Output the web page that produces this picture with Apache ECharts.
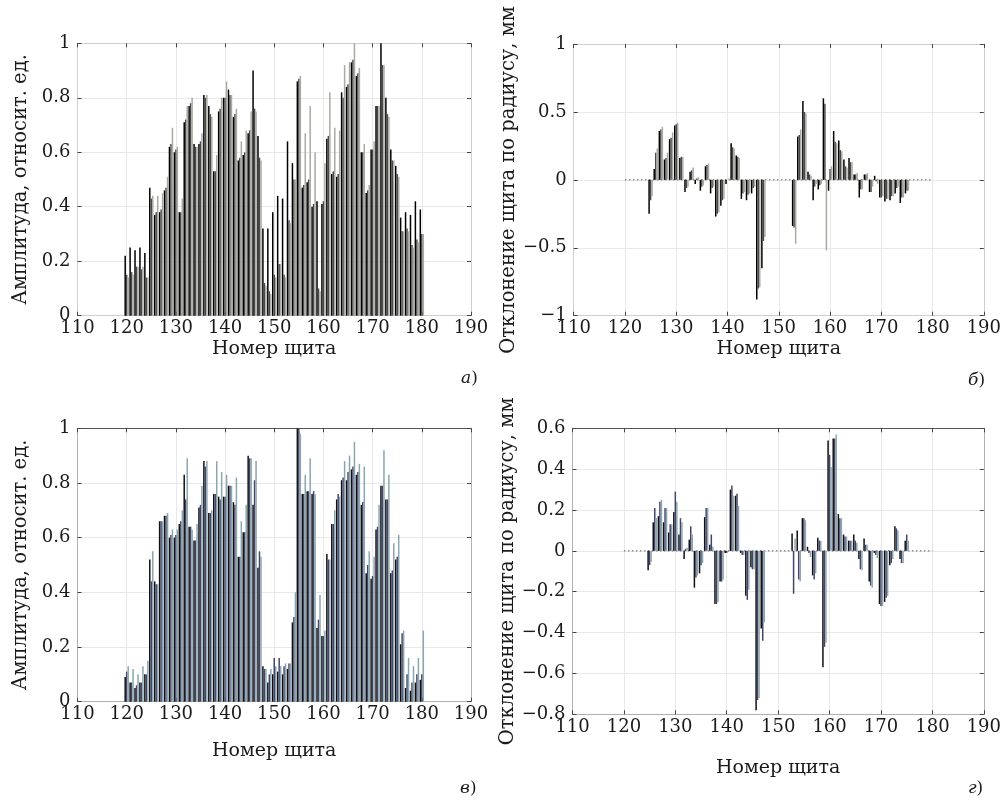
<!DOCTYPE html>
<html><head><meta charset="utf-8">
<script src="https://cdn.jsdelivr.net/npm/echarts@6/dist/echarts.min.js"></script>
<style>html,body{margin:0;padding:0;background:#fff}#c{width:1004px;height:798px}</style>
</head><body><div id="c"></div>
<script>
const shields = Array.from({length: 61}, (_, i) => 120 + i);
const xTicks = [110, 120, 130, 140, 150, 160, 170, 180, 190];

// Panel а) amplitude
const aBlack = [0.22,0.25,0.24,0.25,0.23,0.47,0.37,0.38,0.46,0.62,0.60,0.38,0.71,0.77,0.63,0.63,0.81,0.77,0.53,0.75,0.80,0.83,0.73,0.57,0.59,0.67,0.90,0.66,0.32,0.32,0.38,0.44,0.43,0.64,0.56,0.86,0.47,0.49,0.40,0.42,0.41,0.65,0.52,0.51,0.82,0.84,0.93,0.88,0.60,0.45,0.61,0.77,1.00,0.80,0.61,0.55,0.36,0.38,0.37,0.42,0.39];
const aMid   = [0.15,0.16,0.18,0.17,0.14,0.43,0.38,0.39,0.47,0.63,0.61,0.38,0.72,0.78,0.62,0.64,0.80,0.74,0.53,0.76,0.80,0.81,0.74,0.58,0.60,0.68,0.76,0.58,0.12,0.09,0.15,0.19,0.15,0.35,0.50,0.87,0.48,0.50,0.41,0.10,0.42,0.66,0.53,0.52,0.80,0.85,0.94,0.89,0.60,0.46,0.61,0.77,0.92,0.74,0.57,0.52,0.31,0.32,0.26,0.28,0.30];
const aLight = [0.14,0.15,0.18,0.18,0.14,0.44,0.44,0.45,0.51,0.69,0.62,0.43,0.77,0.80,0.62,0.67,0.81,0.73,0.59,0.80,0.86,0.81,0.76,0.64,0.68,0.75,0.75,0.57,0.11,0.08,0.14,0.19,0.14,0.34,0.50,0.88,0.67,0.77,0.60,0.09,0.56,0.82,0.69,0.68,0.92,0.93,1.00,0.91,0.63,0.48,0.64,0.77,0.92,0.73,0.57,0.51,0.31,0.31,0.25,0.27,0.30];

// Panel б) radial deviation, mm
const bBlack = [0,0,0,0,0,-0.25,0.08,0.36,0.15,0.30,0.40,0.16,-0.09,0.06,-0.03,-0.08,0.10,-0.10,-0.27,-0.19,-0.03,0.27,0.18,-0.14,-0.15,-0.10,-0.88,-0.65,0,0,0,0,0,-0.34,0.32,0.58,0.06,-0.15,-0.07,0.60,-0.08,0.36,0.29,0.15,0.16,0.04,-0.13,0.04,-0.09,0.03,-0.13,-0.16,-0.15,-0.10,-0.17,-0.10,0,0,0,0,0];
const bMid   = [0,0,0,0,0,-0.15,0.20,0.37,0.16,0.31,0.41,0.17,-0.06,0.07,0.01,-0.05,0.11,-0.06,-0.25,-0.15,0.00,0.24,0.17,-0.10,-0.11,-0.06,-0.80,-0.45,0,0,0,0,0,-0.35,0.33,0.50,0.04,-0.05,-0.04,0.56,0.08,0.28,0.22,0.10,0.13,0.04,-0.07,0.04,-0.09,-0.01,-0.13,-0.14,-0.12,-0.06,-0.13,-0.08,0,0,0,0,0];
const bLight = [0,0,0,0,0,-0.12,0.23,0.39,0.20,0.35,0.42,0.17,-0.05,0.09,0.02,-0.04,0.12,-0.05,-0.24,-0.14,0.01,0.23,0.16,-0.09,-0.10,-0.05,-0.79,-0.42,0,0,0,0,0,-0.47,0.37,0.49,0.03,-0.03,-0.03,-0.52,0.10,0.27,0.21,0.09,0.13,0.05,-0.07,0.05,-0.05,-0.03,-0.12,-0.14,-0.12,-0.05,-0.13,-0.08,0,0,0,0,0];

// Panel в) amplitude
const cBlack = [0.09,0.07,0.05,0.07,0.10,0.52,0.44,0.66,0.68,0.60,0.60,0.65,0.83,0.64,0.59,0.71,0.88,0.69,0.76,0.75,0.75,0.79,0.73,0.53,0.62,0.90,0.72,0.49,0.13,0.07,0.10,0.11,0.10,0.12,0.29,1.00,0.76,0.77,0.76,0.27,0.24,0.54,0.65,0.74,0.81,0.81,0.85,0.83,0.72,0.47,0.45,0.63,0.79,0.74,0.47,0.52,0.21,0.05,0.04,0.07,0.08];
const cMid   = [0.11,0.07,0.06,0.07,0.10,0.44,0.43,0.66,0.68,0.61,0.61,0.66,0.74,0.64,0.59,0.72,0.86,0.69,0.76,0.74,0.75,0.79,0.72,0.53,0.62,0.89,0.81,0.55,0.12,0.10,0.16,0.16,0.13,0.14,0.31,1.00,0.76,0.77,0.77,0.30,0.24,0.52,0.65,0.76,0.82,0.84,0.86,0.84,0.73,0.50,0.46,0.64,0.79,0.74,0.48,0.53,0.25,0.10,0.07,0.10,0.10];
const cLight = [0.13,0.12,0.10,0.13,0.15,0.55,0.43,0.66,0.69,0.63,0.63,0.70,0.89,0.63,0.65,0.79,0.88,0.70,0.88,0.84,0.83,0.79,0.82,0.66,0.72,0.89,0.88,0.53,0.12,0.12,0.13,0.13,0.14,0.14,0.40,0.98,0.83,0.89,0.76,0.39,0.26,0.52,0.70,0.75,0.88,0.90,0.95,0.87,0.86,0.55,0.53,0.72,0.92,0.83,0.58,0.61,0.26,0.16,0.13,0.16,0.26];

// Panel г) radial deviation, mm
const dBlack = [0,0,0,0,0,-0.095,0.14,0.17,0.14,0.09,0.19,0.08,-0.04,0.055,-0.18,-0.11,0.165,0.03,-0.26,-0.15,-0.01,0.30,0.27,-0.01,-0.22,-0.08,-0.78,-0.38,0,0,0,0,0,0.085,0.10,0.16,0.02,-0.12,0.064,-0.57,0.54,0.55,0.18,0.08,0.05,0.08,-0.04,0.06,-0.15,-0.01,-0.26,-0.25,-0.07,0.12,-0.04,0.05,0,0,0,0,0];
const dMid   = [0,0,0,0,0,-0.07,0.21,0.24,0.21,0.13,0.29,0.16,0.01,0.12,-0.13,-0.07,0.21,0.08,-0.26,-0.15,-0.01,0.32,0.28,-0.02,-0.24,-0.09,-0.73,-0.44,0,0,0,0,0,-0.21,-0.14,0.16,-0.01,-0.14,0.05,-0.47,0.47,0.55,0.16,0.07,0.05,0.05,-0.09,0.03,-0.17,-0.02,-0.27,-0.23,-0.06,0.11,-0.06,0.08,0,0,0,0,0];
const dLight = [0,0,0,0,0,-0.055,0.16,0.25,0.21,0.13,0.24,0.14,0.015,0.08,-0.12,-0.06,0.21,0.02,-0.25,-0.14,-0.005,0.27,0.22,-0.02,-0.19,-0.09,-0.72,-0.35,0,0,0,0,0,0.06,-0.15,0.15,-0.03,-0.11,0.05,-0.45,0.41,0.57,0.16,0.07,0.05,0.04,-0.095,0.03,-0.18,-0.035,-0.27,-0.22,-0.04,0.10,-0.06,0.05,0,0,0,0,0];

const FONT = 'DejaVu Serif';
const TXT = '#1a1a1a';
const minus = v => String(+v.toFixed(2)).replace('-', '\u2212');

const panels = [
  {grid:{left:77.5, top:43.3, width:393.5, height:272.4}, ymin:0, ymax:1, yint:0.2, yname:'Амплитуда, относит. ед.', frame:'#cfcfcf', top:'#cfcfcf',
   data:[aBlack,aMid,aLight], colors:['#000000','#4a4a4a','#aaaaa2'], zero:false, xgap:24},
  {grid:{left:573.7, top:44, width:412.3, height:271.7}, ymin:-1, ymax:1, yint:0.5, yname:'Отклонение щита по радиусу, мм', frame:'#cfcfcf', top:'#cfcfcf',
   data:[bBlack,bMid,bLight], colors:['#000000','#4a4a4a','#aaaaa2'], zero:true, xgap:24},
  {grid:{left:77.5, top:428.3, width:393.5, height:273.4}, ymin:0, ymax:1, yint:0.2, yname:'Амплитуда, относит. ед.', frame:'#b0b0b0', top:'#555555',
   data:[cBlack,cMid,cLight], colors:['#111111','#45456a','#8aa6b0'], zero:false, xgap:40},
  {grid:{left:572.5, top:428.3, width:414.5, height:286}, ymin:-0.8, ymax:0.6, yint:0.2, yname:'Отклонение щита по радиусу, мм', frame:'#b0b0b0', top:'#555555',
   data:[dBlack,dMid,dLight], colors:['#111111','#45456a','#8aa6b0'], zero:true, xgap:44}
];

const grids = [], xAxes = [], yAxes = [], series = [];
panels.forEach((p, i) => {
  grids.push(p.grid);
  const common = {min:110, max:190, interval:10, gridIndex:i};
  xAxes.push(Object.assign({}, common, {type:'value', position:'bottom',
    name:'Номер щита', nameLocation:'middle', nameGap: p.xgap,
    nameTextStyle:{fontFamily:FONT, fontSize:19, color:TXT},
    axisLine:{show:true, onZero:false, lineStyle:{color:p.frame, width:1}},
    axisTick:{show:true, inside:true, length:4, lineStyle:{color:'#444'}},
    axisLabel:{fontFamily:FONT, fontSize:18, color:TXT, margin:4, formatter: v => String(v)},
    splitLine:{show:true, lineStyle:{color:'#e8e8e8', width:1}}}));
  xAxes.push(Object.assign({}, common, {type:'value', position:'top',
    axisLine:{show:true, onZero:false, lineStyle:{color:p.top, width:1}},
    axisTick:{show:true, inside:true, length:4, lineStyle:{color:'#444'}},
    axisLabel:{show:false}, splitLine:{show:false}}));
  yAxes.push({type:'value', gridIndex:i, min:p.ymin, max:p.ymax, interval:p.yint, position:'left',
    name:p.yname, nameLocation:'middle', nameGap:47, nameRotate:90,
    nameTextStyle:{fontFamily:FONT, fontSize:19.5, color:TXT},
    axisLine:{show:true, onZero:false, lineStyle:{color:p.frame, width:1}},
    axisTick:{show:true, inside:true, length:4, lineStyle:{color:'#444'}},
    axisLabel:{fontFamily:FONT, fontSize:18, color:TXT, margin:7, formatter: minus},
    splitLine:{show:true, lineStyle:{color:'#e8e8e8', width:1}}});
  yAxes.push({type:'value', gridIndex:i, min:p.ymin, max:p.ymax, interval:p.yint, position:'right',
    axisLine:{show:true, onZero:false, lineStyle:{color:p.frame, width:1}},
    axisTick:{show:true, inside:true, length:4, lineStyle:{color:'#444'}},
    axisLabel:{show:false}, splitLine:{show:false}});
  if (p.zero) {
    series.push({type:'line', xAxisIndex:2*i, yAxisIndex:2*i, data:[[shields[0],0],[shields[shields.length-1],0]],
      symbol:'none', silent:true, z:1, lineStyle:{color:'#555', width:1, type:[1.5,2.5]}});
  }
  p.data.forEach((arr, k) => {
    series.push({type:'bar', xAxisIndex:2*i, yAxisIndex:2*i,
      data: shields.map((s, j) => [s, arr[j]]),
      barWidth:1.5, barGap:'0%', z:2,
      itemStyle:{color:p.colors[k]}});
  });
});

const chart = echarts.init(document.getElementById('c'), null, {renderer:'canvas'});
const lbl = t => ({text:'{i|' + t + '})', rich:{i:{fontStyle:'italic', fontFamily:FONT, fontSize:17, fill:TXT}}, font:'17px "DejaVu Serif"', fill:TXT});
chart.setOption({
  animation:false,
  backgroundColor:'#fff',
  grid:grids, xAxis:xAxes, yAxis:yAxes, series:series,
  graphic:[
    {type:'text', left:461, top:370, style:lbl('а')},
    {type:'text', left:968, top:372, style:lbl('б')},
    {type:'text', left:460, top:780, style:lbl('в')},
    {type:'text', left:968, top:780, style:lbl('г')}
  ]
});
</script></body></html>
